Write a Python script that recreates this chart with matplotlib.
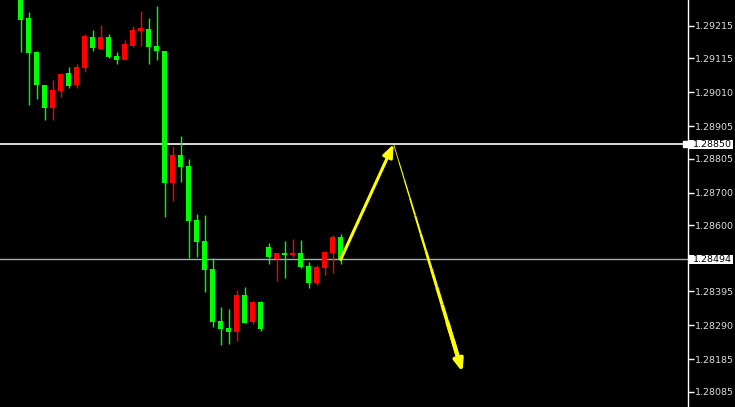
import matplotlib
matplotlib.use('Agg')
import matplotlib.pyplot as plt
import matplotlib.transforms as mtransforms
from matplotlib.patches import Rectangle
from matplotlib.collections import LineCollection
import numpy as np

# OHLC per candle (green = falling candle, red = rising candle, as in the terminal)
opens = [1.29305, 1.29240, 1.29135, 1.29033, 1.28962, 1.29015, 1.29070, 1.29033, 1.29086, 1.29181,
         1.29144, 1.29181, 1.29121, 1.29110, 1.29154, 1.29199, 1.29206, 1.29153, 1.29138, 1.28730,
         1.28816, 1.28782, 1.28615, 1.28550, 1.28464, 1.28303, 1.28282, 1.28269, 1.28384, 1.28300,
         1.28362, 1.28532, 1.28495, 1.28514, 1.28508, 1.28514, 1.28473, 1.28421, 1.28467, 1.28514,
         1.28563]
highs = [1.29314, 1.29258, 1.29138, 1.29033, 1.29048, 1.29070, 1.29088, 1.29098, 1.29190, 1.29203,
         1.29218, 1.29190, 1.29134, 1.29172, 1.29215, 1.29261, 1.29240, 1.29277, 1.29138, 1.28844,
         1.28875, 1.28804, 1.28634, 1.28631, 1.28498, 1.28347, 1.28341, 1.28399, 1.28408, 1.28365,
         1.28365, 1.28544, 1.28514, 1.28550, 1.28557, 1.28554, 1.28486, 1.28476, 1.28520, 1.28569,
         1.28572]
lows = [1.29135, 1.28971, 1.28989, 1.28925, 1.28925, 1.28996, 1.29023, 1.29023, 1.29072, 1.29138,
        1.29144, 1.29117, 1.29098, 1.29110, 1.29151, 1.29153, 1.29098, 1.29110, 1.28625, 1.28674,
        1.28733, 1.28498, 1.28501, 1.28393, 1.28285, 1.28229, 1.28232, 1.28242, 1.28297, 1.28294,
        1.28273, 1.28480, 1.28427, 1.28436, 1.28501, 1.28467, 1.28405, 1.28415, 1.28446, 1.28452,
        1.28480]
closes = [1.29234, 1.29132, 1.29033, 1.28962, 1.29017, 1.29067, 1.29030, 1.29089, 1.29184, 1.29147,
          1.29181, 1.29120, 1.29109, 1.29159, 1.29203, 1.29209, 1.29150, 1.29138, 1.28730, 1.28816,
          1.28779, 1.28612, 1.28547, 1.28461, 1.28300, 1.28279, 1.28269, 1.28384, 1.28297, 1.28362,
          1.28279, 1.28501, 1.28514, 1.28507, 1.28514, 1.28470, 1.28421, 1.28470, 1.28517, 1.28563,
          1.28494]

tick_values = [1.29215, 1.29115, 1.29010, 1.28905, 1.28805, 1.28700, 1.28600,
               1.28395, 1.28290, 1.28185, 1.28085]
level_line = 1.28850
current_price = 1.28494

# hand drawn arrows: (candle index, price)
arrow_x = [40, 46.6, 55.2]
arrow_y = [1.28494, 1.28850, 1.28146]

fig = plt.figure(figsize=(7.35, 4.07), dpi=100, facecolor='black')
ax = fig.add_axes([0, 0, 688 / 735, 1])
ax.set_facecolor('black')

x = np.arange(len(opens))
o = np.array(opens)
c = np.array(closes)
cols = np.where(c < o, '#00ff00', '#ff0000')
bottom = np.minimum(o, c)
height = np.maximum(np.abs(c - o), 0.00004)

ax.vlines(x, lows, highs, colors=cols, lw=1, zorder=2)
ax.bar(x, height, bottom=bottom, width=0.625, color=cols, linewidth=0, zorder=3)

# horizontal lines
ax.axhline(level_line, color='white', lw=1.2, zorder=1)
ax.axhline(current_price, color='#a4acb4', lw=1, zorder=1)
ax.plot([0.9965], [level_line], marker='s', ms=3.8, color='white',
        transform=mtransforms.blended_transform_factory(ax.transAxes, ax.transData),
        clip_on=False, zorder=5)

# arrows
ax.annotate('', xy=(arrow_x[1], arrow_y[1]), xytext=(arrow_x[0], arrow_y[0]),
            arrowprops=dict(arrowstyle='-|>,head_length=0.75,head_width=0.3',
                            color='#ffff00', lw=2.2, shrinkA=0, shrinkB=0), zorder=6)
# second arrow gets thicker towards its tip
t = np.linspace(0, 0.94, 13)
px = arrow_x[1] + t * (arrow_x[2] - arrow_x[1])
py = arrow_y[1] + t * (arrow_y[2] - arrow_y[1])
segs = [[(px[i], py[i]), (px[i + 1], py[i + 1])] for i in range(len(t) - 1)]
widths = np.linspace(0.6, 3.0, len(segs))
ax.add_collection(LineCollection(segs, colors='#ffff00', linewidths=widths,
                                 capstyle='butt', zorder=6))
ax.annotate('', xy=(arrow_x[2], arrow_y[2]), xytext=(px[-3], py[-3]),
            arrowprops=dict(arrowstyle='-|>,head_length=0.7,head_width=0.28',
                            color='#ffff00', lw=2.8, shrinkA=0, shrinkB=0), zorder=6)

ax.set_xlim(-2.5625, 83.375)
ax.set_ylim(1.280377, 1.292953)

for s in ['left', 'top', 'bottom']:
    ax.spines[s].set_visible(False)
ax.spines['right'].set_color('white')
ax.spines['right'].set_linewidth(1)
ax.set_xticks([])
ax.yaxis.tick_right()
ax.set_yticks(tick_values)
ax.set_yticklabels(['%.5f' % v for v in tick_values])
ax.tick_params(axis='y', colors='white', labelcolor='#dcdcdc', direction='out',
               length=4, width=1, labelsize=6.8, pad=1)

# price labels on the scale
tr = mtransforms.blended_transform_factory(fig.transFigure, ax.transData)
for val in [level_line, current_price]:
    ax.add_patch(Rectangle((689 / 735, val - 0.00014), 44 / 735, 0.00028, transform=tr,
                           facecolor='white', edgecolor='none', clip_on=False, zorder=7))
    ax.text(693 / 735, val, '%.5f' % val, transform=tr, color='black', fontsize=6.8,
            ha='left', va='center', zorder=8, clip_on=False)

fig.savefig('out.png', dpi=100, facecolor='black')
